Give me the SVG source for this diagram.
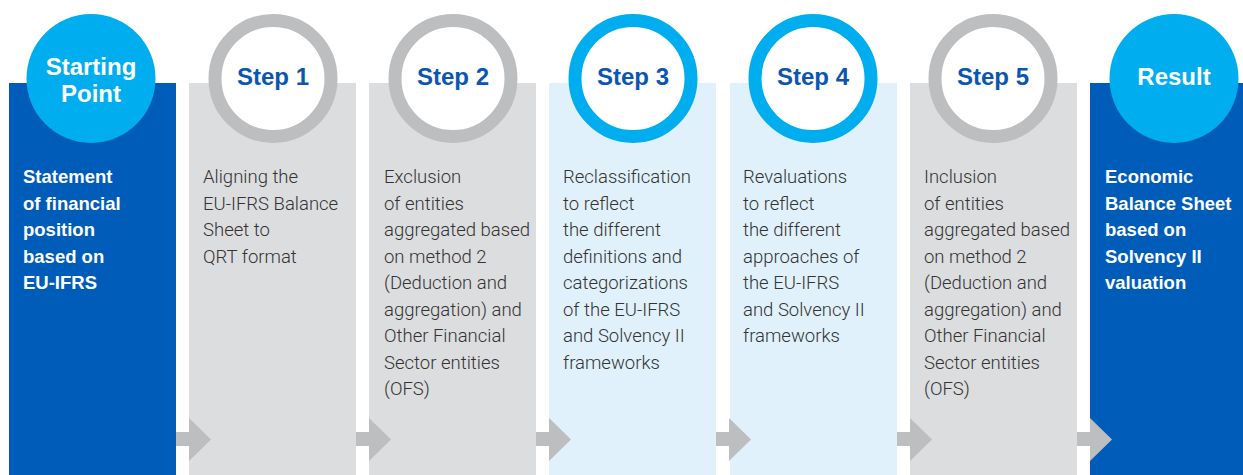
<svg xmlns="http://www.w3.org/2000/svg" width="1243" height="475" viewBox="0 0 1243 475">
  <style>
    .dark{fill:#005cb9}
    .grey{fill:#dcdddf}
    .light{fill:#e0f1fb}
    .solid{fill:#00aeef}
    .ringg{fill:#ffffff;stroke:#bdbec0;stroke-width:13}
    .ringb{fill:#ffffff;stroke:#00aeef;stroke-width:13}
    .ct{font-family:"Liberation Sans",Arial,sans-serif;font-weight:bold;font-size:24px;text-anchor:middle}
    .step{fill:#0a56b0}
    .wt{fill:#ffffff}
    .body{font-family:Roboto,"Liberation Sans",sans-serif;font-weight:300;font-size:18.5px;fill:#333333}
    .bold{font-family:"Liberation Sans",Arial,sans-serif;font-weight:bold;font-size:18.5px;fill:#ffffff}
    .arr{fill:#bdbec0}
  </style>
  <defs>
    <path id="arrow" d="M0,432 H13 V418 L35,439.5 L13,461 V446 H0 Z"/>
  </defs>

  <g id="start">
    <rect class="dark" x="9" y="83" width="167" height="392"/>
    <circle class="solid" cx="91" cy="78.5" r="64.5"/>
    <text class="ct wt" x="91" y="75">Starting</text>
    <text class="ct wt" x="91" y="102">Point</text>
    <text class="bold">
      <tspan x="23" y="183">Statement</tspan>
      <tspan x="23" y="209.5">of financial</tspan>
      <tspan x="23" y="236">position</tspan>
      <tspan x="23" y="262.5">based on</tspan>
      <tspan x="23" y="289">EU-IFRS</tspan>
    </text>
  </g>

  <g id="step1">
    <rect class="grey" x="189" y="83" width="167" height="392"/>
    <circle class="ringg" cx="273" cy="78.5" r="58"/>
    <text class="ct step" x="273" y="85">Step 1</text>
    <text class="body">
      <tspan x="203" y="183">Aligning the</tspan>
      <tspan x="203" y="209.5">EU-IFRS Balance</tspan>
      <tspan x="203" y="236">Sheet to</tspan>
      <tspan x="203" y="262.5">QRT format</tspan>
    </text>
  </g>

  <g id="step2">
    <rect class="grey" x="369" y="83" width="167" height="392"/>
    <circle class="ringg" cx="453" cy="78.5" r="58"/>
    <text class="ct step" x="453" y="85">Step 2</text>
    <text class="body">
      <tspan x="384" y="183">Exclusion</tspan>
      <tspan x="384" y="209.5">of entities</tspan>
      <tspan x="384" y="236">aggregated based</tspan>
      <tspan x="384" y="262.5">on method 2</tspan>
      <tspan x="384" y="289">(Deduction and</tspan>
      <tspan x="384" y="315.5">aggregation) and</tspan>
      <tspan x="384" y="342">Other Financial</tspan>
      <tspan x="384" y="368.5">Sector entities</tspan>
      <tspan x="384" y="395">(OFS)</tspan>
    </text>
  </g>

  <g id="step3">
    <rect class="light" x="549" y="83" width="167" height="392"/>
    <circle class="ringb" cx="633" cy="78.5" r="58"/>
    <text class="ct step" x="633" y="85">Step 3</text>
    <text class="body">
      <tspan x="563" y="183">Reclassification</tspan>
      <tspan x="563" y="209.5">to reflect</tspan>
      <tspan x="563" y="236">the different</tspan>
      <tspan x="563" y="262.5">definitions and</tspan>
      <tspan x="563" y="289">categorizations</tspan>
      <tspan x="563" y="315.5">of the EU-IFRS</tspan>
      <tspan x="563" y="342">and Solvency II</tspan>
      <tspan x="563" y="368.5">frameworks</tspan>
    </text>
  </g>

  <g id="step4">
    <rect class="light" x="730" y="83" width="167" height="392"/>
    <circle class="ringb" cx="813" cy="78.5" r="58"/>
    <text class="ct step" x="813" y="85">Step 4</text>
    <text class="body">
      <tspan x="743" y="183">Revaluations</tspan>
      <tspan x="743" y="209.5">to reflect</tspan>
      <tspan x="743" y="236">the different</tspan>
      <tspan x="743" y="262.5">approaches of</tspan>
      <tspan x="743" y="289">the EU-IFRS</tspan>
      <tspan x="743" y="315.5">and Solvency II</tspan>
      <tspan x="743" y="342">frameworks</tspan>
    </text>
  </g>

  <g id="step5">
    <rect class="grey" x="910" y="83" width="167" height="392"/>
    <circle class="ringg" cx="993" cy="78.5" r="58"/>
    <text class="ct step" x="993" y="85">Step 5</text>
    <text class="body">
      <tspan x="924" y="183">Inclusion</tspan>
      <tspan x="924" y="209.5">of entities</tspan>
      <tspan x="924" y="236">aggregated based</tspan>
      <tspan x="924" y="262.5">on method 2</tspan>
      <tspan x="924" y="289">(Deduction and</tspan>
      <tspan x="924" y="315.5">aggregation) and</tspan>
      <tspan x="924" y="342">Other Financial</tspan>
      <tspan x="924" y="368.5">Sector entities</tspan>
      <tspan x="924" y="395">(OFS)</tspan>
    </text>
  </g>

  <g id="result">
    <rect class="dark" x="1090" y="83" width="153" height="392"/>
    <circle class="solid" cx="1174" cy="78.5" r="64.5"/>
    <text class="ct wt" x="1174" y="85">Result</text>
    <text class="bold">
      <tspan x="1105" y="183">Economic</tspan>
      <tspan x="1105" y="209.5">Balance Sheet</tspan>
      <tspan x="1105" y="236">based on</tspan>
      <tspan x="1105" y="262.5">Solvency II</tspan>
      <tspan x="1105" y="289">valuation</tspan>
    </text>
  </g>

  <g id="connectors">
    <use href="#arrow" class="arr" x="176"/>
    <use href="#arrow" class="arr" x="356"/>
    <use href="#arrow" class="arr" x="536"/>
    <use href="#arrow" class="arr" x="716"/>
    <use href="#arrow" class="arr" x="897"/>
    <use href="#arrow" class="arr" x="1077"/>
  </g>
</svg>
